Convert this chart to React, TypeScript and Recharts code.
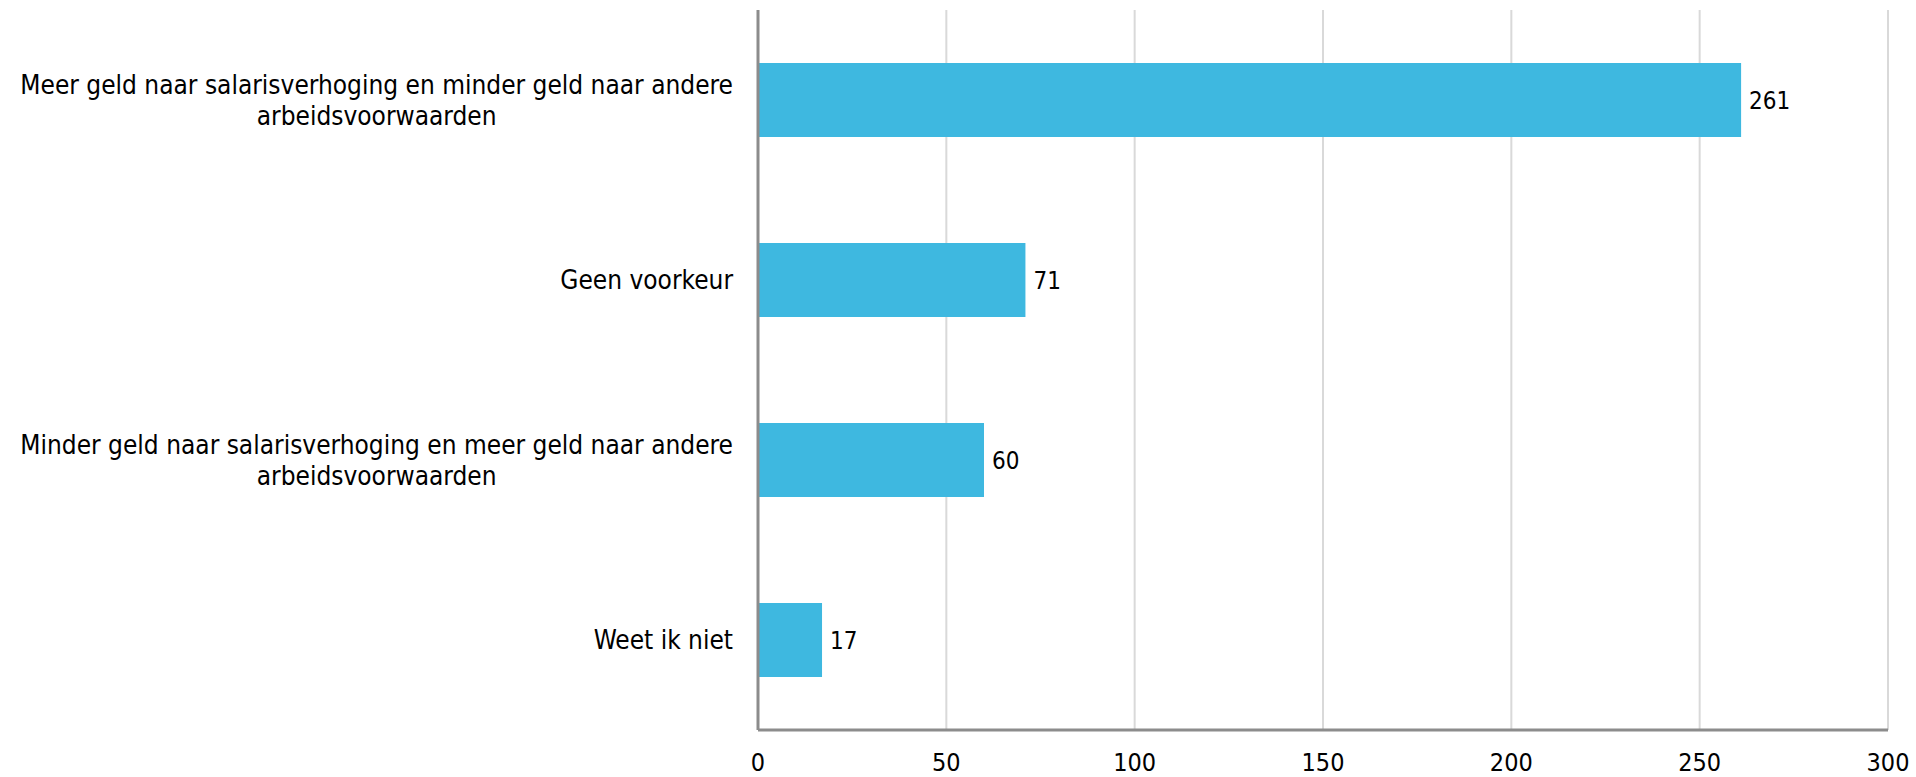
import React from "react";
import { BarChart, Bar, XAxis, YAxis, CartesianGrid, LabelList } from "recharts";

const categories = [
  "Meer geld naar salarisverhoging en minder geld naar andere arbeidsvoorwaarden",
  "Geen voorkeur",
  "Minder geld naar salarisverhoging en meer geld naar andere arbeidsvoorwaarden",
  "Weet ik niet",
];
const values = [261, 71, 60, 17];
const xTicks = [0, 50, 100, 150, 200, 250, 300];

const data = categories.map((c, i) => ({ name: c, value: values[i] }));

const FONT = "'DejaVu Sans Condensed', 'DejaVu Sans', sans-serif";
const CAT_SIZE = 26;
const MAX_W = 740;

let ctx: CanvasRenderingContext2D | null = null;
function measure(t: string): number {
  if (!ctx) ctx = document.createElement("canvas").getContext("2d");
  if (!ctx) return t.length * CAT_SIZE * 0.52;
  ctx.font = `${CAT_SIZE}px 'DejaVu Sans Condensed'`;
  return ctx.measureText(t).width;
}

function wrap(text: string): string[] {
  const words = text.split(" ");
  const lines: string[] = [];
  let cur = "";
  for (const w of words) {
    const test = cur ? cur + " " + w : w;
    if (measure(test) > MAX_W && cur) {
      lines.push(cur);
      cur = w;
    } else cur = test;
  }
  if (cur) lines.push(cur);
  return lines;
}

const CatTick = (props: any) => {
  const { x, y, payload } = props;
  const lines = wrap(String(payload.value));
  const blockW = Math.max(...lines.map(measure));
  const cx = x - blockW / 2;
  const lh = 31;
  const startY = y - ((lines.length - 1) * lh) / 2;
  return (
    <g>
      {lines.map((l, i) => (
        <text
          key={i}
          x={cx}
          y={startY + i * lh}
          dy="0.35em"
          textAnchor="middle"
          fontSize={CAT_SIZE}
          fontFamily={FONT}
          fill="#000"
        >
          {l}
        </text>
      ))}
    </g>
  );
};

export default function App() {
  return (
    <div style={{ position: "absolute", left: 0, top: 0, width: 1916, height: 777, background: "#fff" }}>
      <BarChart
        width={1916}
        height={777}
        data={data}
        layout="vertical"
        margin={{ top: 10, right: 28, bottom: 0, left: 0 }}
        barCategoryGap={0}
      >
        <CartesianGrid horizontal={false} stroke="#d9d9d9" strokeWidth={2} />
        <XAxis
          type="number"
          domain={[0, 300]}
          ticks={xTicks}
          height={47}
          axisLine={{ stroke: "#8c8c8c", strokeWidth: 3 }}
          tickLine={false}
          tickSize={0}
          tickMargin={23}
          tick={{ fill: "#000", fontSize: 25, fontFamily: FONT }}
          interval={0}
        />
        <YAxis
          type="category"
          dataKey="name"
          width={758}
          axisLine={{ stroke: "#8c8c8c", strokeWidth: 3 }}
          tickLine={false}
          tickSize={0}
          tickMargin={25}
          tick={<CatTick />}
          interval={0}
        />
        <Bar dataKey="value" fill="#3EB8E0" barSize={74} isAnimationActive={false}>
          <LabelList
            dataKey="value"
            position="right"
            offset={8}
            fill="#000"
            fontSize={24}
            fontFamily={FONT}
          />
        </Bar>
      </BarChart>
    </div>
  );
}
